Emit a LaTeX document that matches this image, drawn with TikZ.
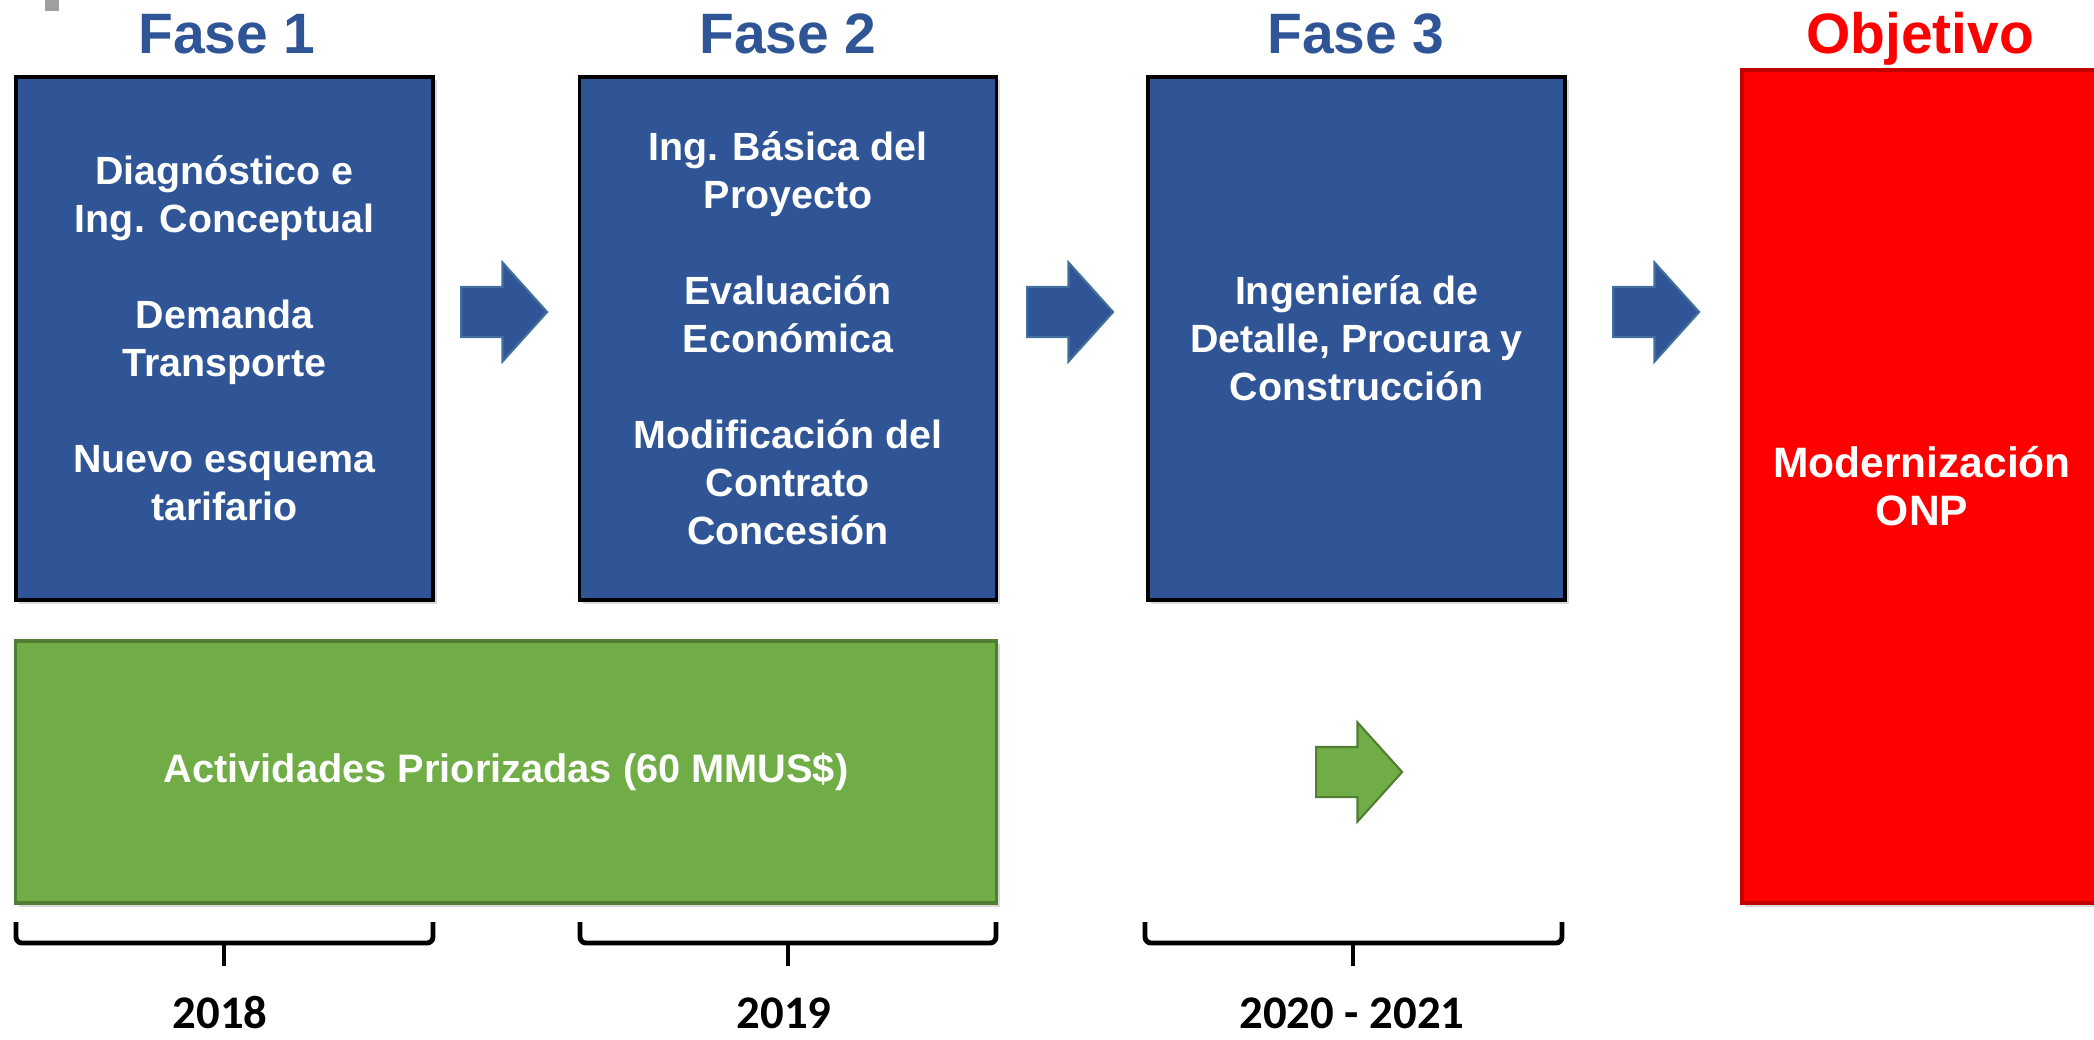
\documentclass[tikz,border=0pt]{standalone}
\usepackage{fontspec}
\setmainfont{Liberation Sans}
\newfontfamily\yearfont{Carlito}
\usetikzlibrary{shapes.arrows}
\usetikzlibrary{shadows}

\definecolor{faseblue}{RGB}{47,85,151}
\definecolor{arrowline}{RGB}{65,113,156}
\definecolor{actgreen}{RGB}{112,173,71}
\definecolor{actgreenline}{RGB}{80,126,50}
\definecolor{objred}{RGB}{255,0,0}
\definecolor{objredline}{RGB}{192,0,0}

\tikzset{
  boxshadow/.style={drop shadow={shadow xshift=0.035cm,shadow yshift=-0.035cm,opacity=0.3,fill=gray}},
  fasetitle/.style={anchor=base,font=\fontsize{16.2}{19}\selectfont\bfseries,text=faseblue},
  fasebox/.style={draw=black,line width=1pt,fill=faseblue,text=white,boxshadow,
    minimum width=4.17cm,minimum height=5.23cm,align=center,
    font=\fontsize{11.2}{13.65}\selectfont\bfseries},
  fasearrow/.style={single arrow,draw=arrowline,line width=0.6pt,fill=faseblue,
    inner sep=0pt,inner ysep=0.24cm,minimum height=0.86cm,
    single arrow head extend=0.245cm,single arrow tip angle=96,anchor=tail},
  yearlabel/.style={anchor=base,font=\yearfont\fontsize{13.3}{16}\selectfont\bfseries},
  bracket/.style={line width=1.4pt,rounded corners=0.06cm},
}

\begin{document}
\begin{tikzpicture}[x=0.01cm,y=-0.01cm]
\useasboundingbox (0,0) rectangle (2094,1039);
\clip (0,0) rectangle (2094,1039);

\fill[gray!75] (45,0) rectangle (59,11);

% titulos
\node[fasetitle] (t1) at (227,53) {Fase 1};
\node[fasetitle] (t2) at (788,53) {Fase 2};
\node[fasetitle] (t3) at (1356,53) {Fase 3};
\node[fasetitle,text=objred] (tobj) at (1920,53) {Objetivo};

% fases
\node[fasebox] (f1) at (224.5,338.5) {Diagnóstico e\\Ing. Conceptual\\[13.65pt]Demanda\\Transporte\\[13.65pt]Nuevo esquema\\tarifario};
\node[fasebox] (f2) at (788,338.5) {Ing. Básica del\\Proyecto\\[13.65pt]Evaluación\\Económica\\[13.65pt]Modificación del\\Contrato\\Concesión};
\node[fasebox] (f3) at (1356.5,338.5) {Ingeniería de\\Detalle, Procura y\\Construcción};

\node[draw=objredline,line width=1pt,fill=objred,text=white,boxshadow,
  minimum width=3.6cm,minimum height=8.33cm,align=center,
  font=\fontsize{12.1}{13.65}\selectfont\bfseries] (obj) at (1922,486.5) {Modernización\\ONP};

\node[draw=actgreenline,line width=1pt,fill=actgreen,text=white,boxshadow,
  minimum width=9.8cm,minimum height=2.62cm,
  font=\fontsize{11.3}{13.65}\selectfont\bfseries] (act) at (506,772) {Actividades Priorizadas (60 MMUS\$)};

% flechas
\node[fasearrow] (a12) at (460,312) {};
\node[fasearrow] (a23) at (1026,312) {};
\node[fasearrow] (a3o) at (1612,312) {};
\node[fasearrow,fill=actgreen,draw=actgreenline] (aact) at (1315,772) {};

% llaves
\draw[bracket] (16,922) -- (16,943) -- (433,943) -- (433,922);
\draw[line width=1.4pt] (224,943) -- (224,966);
\draw[bracket] (580,922) -- (580,943) -- (996,943) -- (996,922);
\draw[line width=1.4pt] (788,943) -- (788,966);
\draw[bracket] (1145,922) -- (1145,943) -- (1562,943) -- (1562,922);
\draw[line width=1.4pt] (1353,943) -- (1353,966);

\node[yearlabel] (y1) at (220,1028) {2018};
\node[yearlabel] (y2) at (784,1028) {2019};
\node[yearlabel] (y3) at (1352,1028) {2020 - 2021};

\end{tikzpicture}
\end{document}
